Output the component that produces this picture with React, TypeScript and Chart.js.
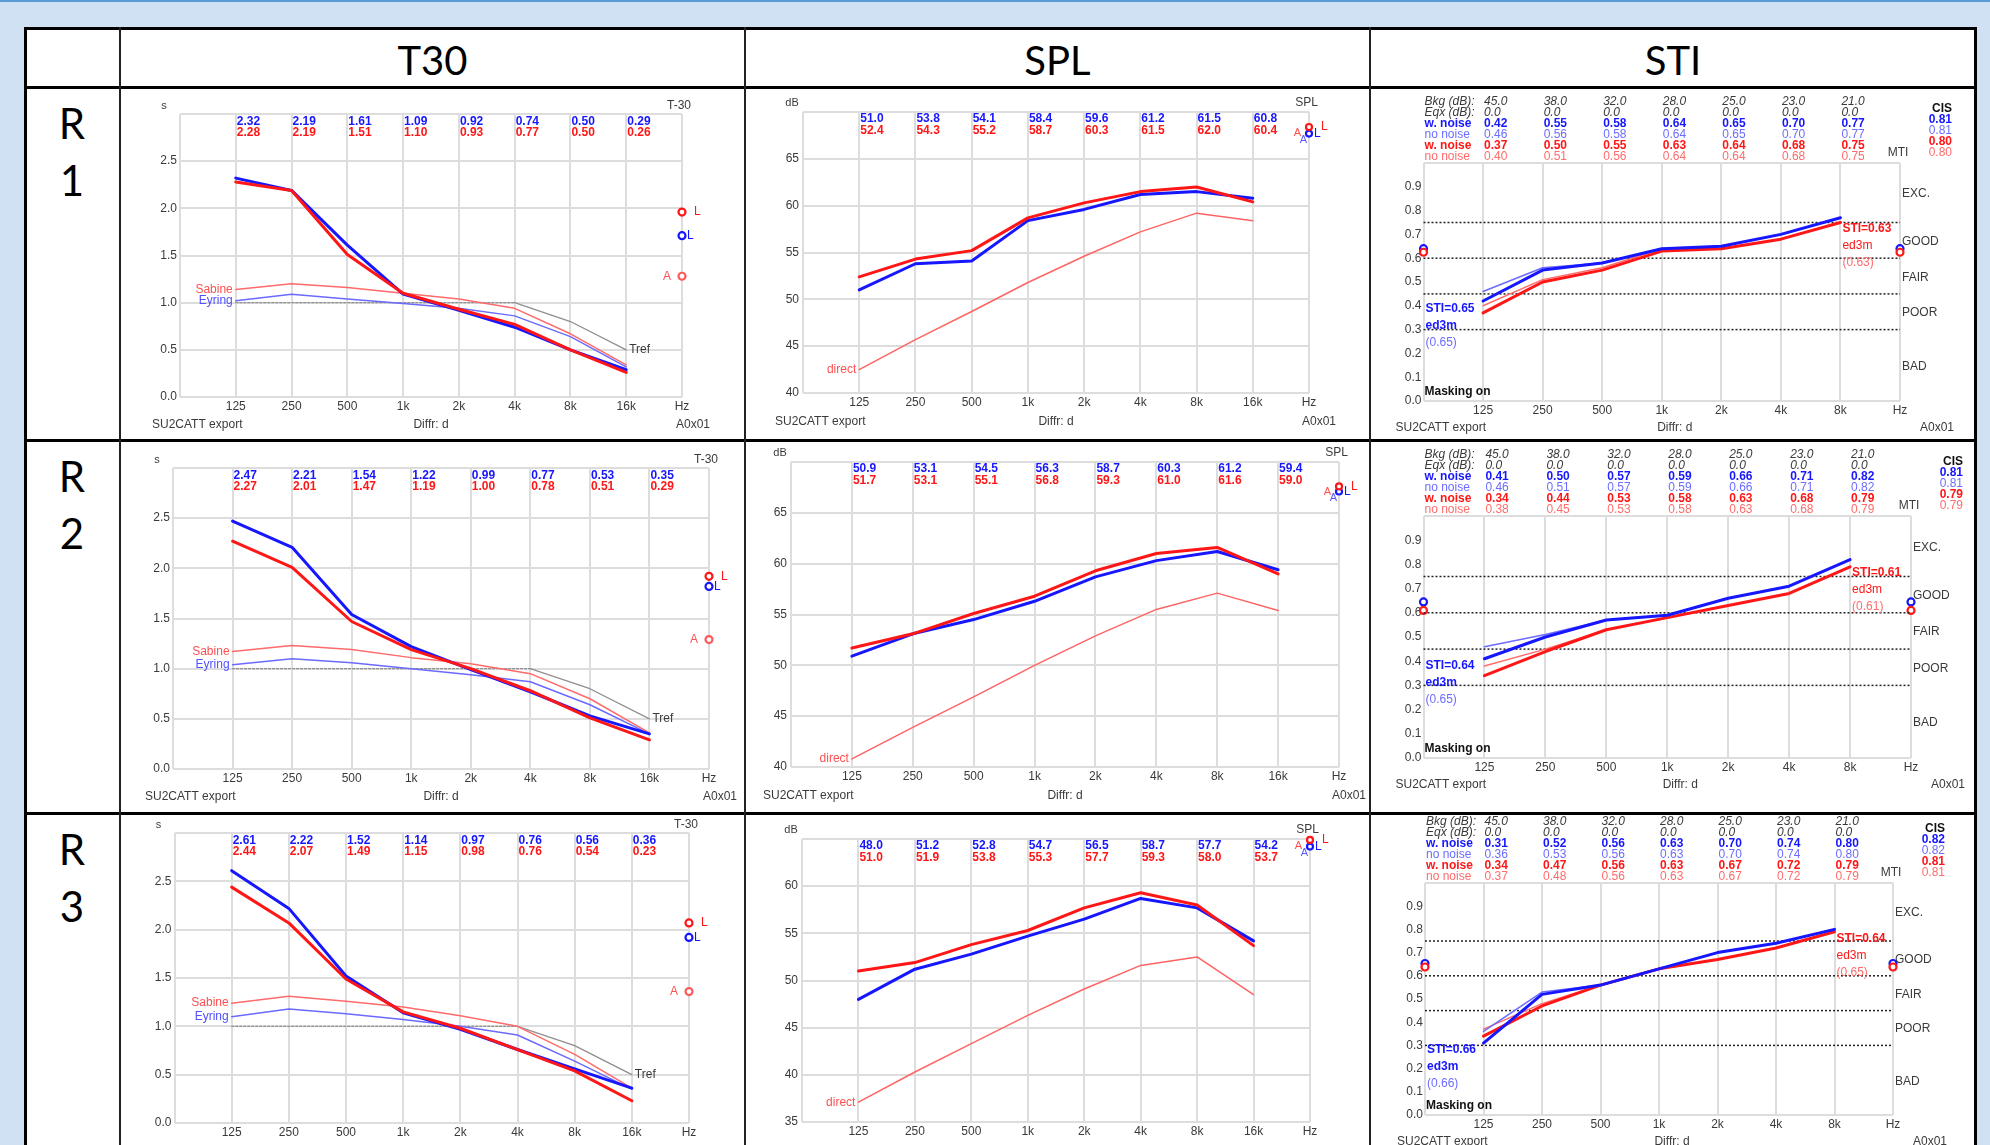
import React, { useEffect, useRef } from "react";
import { Chart, registerables } from "chart.js";
Chart.register(...registerables);

const FONT = '"Liberation Sans", Arial, sans-serif';
Chart.defaults.font.family = FONT;

// ---------------- DATA ----------------
const t30Axis = ["", "125", "250", "500", "1k", "2k", "4k", "8k", "16k", "Hz"];
const t30Bands = ["125", "250", "500", "1k", "2k", "4k", "8k", "16k"];
const stiAxis = ["", "125", "250", "500", "1k", "2k", "4k", "8k", "Hz"];
const stiBands = ["125", "250", "500", "1k", "2k", "4k", "8k"];

// T30 (s)
const r1T30Blue = [2.32, 2.19, 1.61, 1.09, 0.92, 0.74, 0.5, 0.29];
const r1T30Red = [2.28, 2.19, 1.51, 1.1, 0.93, 0.77, 0.5, 0.26];
const r1Sabine = [1.14, 1.2, 1.16, 1.1, 1.04, 0.94, 0.67, 0.34];
const r1Eyring = [1.02, 1.09, 1.04, 0.99, 0.94, 0.86, 0.64, 0.32];
const r1Tref = [1.0, 1.0, 1.0, 1.0, 1.0, 1.0, 0.8, 0.5];
const r1T30Marks = [1.96, 1.71, 1.28];

const r2T30Blue = [2.47, 2.21, 1.54, 1.22, 0.99, 0.77, 0.53, 0.35];
const r2T30Red = [2.27, 2.01, 1.47, 1.19, 1.0, 0.78, 0.51, 0.29];
const r2Sabine = [1.17, 1.23, 1.19, 1.11, 1.05, 0.95, 0.7, 0.36];
const r2Eyring = [1.04, 1.1, 1.06, 1.0, 0.94, 0.87, 0.64, 0.35];
const r2Tref = [1.0, 1.0, 1.0, 1.0, 1.0, 1.0, 0.8, 0.5];
const r2T30Marks = [1.92, 1.82, 1.29];

const r3T30Blue = [2.61, 2.22, 1.52, 1.14, 0.97, 0.76, 0.56, 0.36];
const r3T30Red = [2.44, 2.07, 1.49, 1.15, 0.98, 0.76, 0.54, 0.23];
const r3Sabine = [1.24, 1.31, 1.26, 1.2, 1.11, 1.0, 0.71, 0.36];
const r3Eyring = [1.1, 1.18, 1.13, 1.07, 1.0, 0.91, 0.64, 0.35];
const r3Tref = [1.0, 1.0, 1.0, 1.0, 1.0, 1.0, 0.8, 0.5];
const r3T30Marks = [2.07, 1.92, 1.36];

// SPL (dB)
const r1SplBlue = [51.0, 53.8, 54.1, 58.4, 59.6, 61.2, 61.5, 60.8];
const r1SplRed = [52.4, 54.3, 55.2, 58.7, 60.3, 61.5, 62.0, 60.4];
const r1Direct = [42.5, 45.7, 48.7, 51.8, 54.6, 57.2, 59.2, 58.4];
const r1SplMarks = [68.4, 67.7];
const r1SplRange = [40, 70];

const r2SplBlue = [50.9, 53.1, 54.5, 56.3, 58.7, 60.3, 61.2, 59.4];
const r2SplRed = [51.7, 53.1, 55.1, 56.8, 59.3, 61.0, 61.6, 59.0];
const r2Direct = [40.8, 43.9, 46.9, 50.0, 52.9, 55.5, 57.1, 55.4];
const r2SplMarks = [67.6, 67.1];
const r2SplRange = [40, 70];

const r3SplBlue = [48.0, 51.2, 52.8, 54.7, 56.5, 58.7, 57.7, 54.2];
const r3SplRed = [51.0, 51.9, 53.8, 55.3, 57.7, 59.3, 58.0, 53.7];
const r3Direct = [37.1, 40.3, 43.3, 46.3, 49.1, 51.6, 52.5, 48.5];
const r3SplMarks = [64.9, 64.2];
const r3SplRange = [35, 65];

// STI
const stiBkg = [45.0, 38.0, 32.0, 28.0, 25.0, 23.0, 21.0];
const stiEqx = [0.0, 0.0, 0.0, 0.0, 0.0, 0.0, 0.0];
const stiLimits = [0.3, 0.45, 0.6, 0.75];
const stiRatings = ["EXC.", "GOOD", "FAIR", "POOR", "BAD"];
const stiRatingAt = [0.87, 0.67, 0.52, 0.37, 0.145];

const r1BlueNoise = [0.42, 0.55, 0.58, 0.64, 0.65, 0.7, 0.77];
const r1BlueClean = [0.46, 0.56, 0.58, 0.64, 0.65, 0.7, 0.77];
const r1RedNoise = [0.37, 0.5, 0.55, 0.63, 0.64, 0.68, 0.75];
const r1RedClean = [0.4, 0.51, 0.56, 0.64, 0.64, 0.68, 0.75];
const r1Cis = [0.81, 0.81, 0.8, 0.8];
const r1Sti = [0.65, 0.65, 0.63, 0.63];
const r1StiMarks = [0.64, 0.625];
const r1StiLabelAt = [0.386, 0.725];

const r2BlueNoise = [0.41, 0.5, 0.57, 0.59, 0.66, 0.71, 0.82];
const r2BlueClean = [0.46, 0.51, 0.57, 0.59, 0.66, 0.71, 0.82];
const r2RedNoise = [0.34, 0.44, 0.53, 0.58, 0.63, 0.68, 0.79];
const r2RedClean = [0.38, 0.45, 0.53, 0.58, 0.63, 0.68, 0.79];
const r2Cis = [0.81, 0.81, 0.79, 0.79];
const r2Sti = [0.64, 0.65, 0.61, 0.61];
const r2StiMarks = [0.645, 0.61];
const r2StiLabelAt = [0.38, 0.764];

const r3BlueNoise = [0.31, 0.52, 0.56, 0.63, 0.7, 0.74, 0.8];
const r3BlueClean = [0.36, 0.53, 0.56, 0.63, 0.7, 0.74, 0.8];
const r3RedNoise = [0.34, 0.47, 0.56, 0.63, 0.67, 0.72, 0.79];
const r3RedClean = [0.37, 0.48, 0.56, 0.63, 0.67, 0.72, 0.79];
const r3Cis = [0.82, 0.82, 0.81, 0.81];
const r3Sti = [0.66, 0.66, 0.64, 0.65];
const r3StiMarks = [0.653, 0.638];
const r3StiLabelAt = [0.28, 0.76];

const columnTitles = ["T30", "SPL", "STI"];
const rowTitles = [["R", "1"], ["R", "2"], ["R", "3"]];

// ---------------- STYLE / LAYOUT ----------------
const BLUE = "#1616ff";
const RED = "#ff1616";
const LBLUE = "#6c6cff";
const LRED = "#ff6c6c";
const GRID = "#dddddd";
const TXT = "#3a3a3a";

type Rect = { x: number; y: number; w: number; h: number };
type Plot = { L: number; T: number; R: number; B: number };

const rowBoxes = [
  { y: 90, h: 350 },
  { y: 443, h: 370 },
  { y: 816, h: 329 },
];
const colBoxes = [
  { x: 122, w: 621 },
  { x: 747, w: 621 },
  { x: 1372, w: 602 },
];
const t30Plots: Plot[] = [
  { L: 180, T: 114, R: 682, B: 397 },
  { L: 173, T: 468, R: 709, B: 769 },
  { L: 174.5, T: 833, R: 689, B: 1123 },
];
const splPlots: Plot[] = [
  { L: 803, T: 112, R: 1309, B: 393 },
  { L: 791, T: 462, R: 1339, B: 767 },
  { L: 802, T: 839, R: 1310, B: 1122 },
];
const stiPlots: Plot[] = [
  { L: 1423.5, T: 163, R: 1900, B: 401 },
  { L: 1423.5, T: 516, R: 1911, B: 758 },
  { L: 1425, T: 883, R: 1893, B: 1115 },
];

const YW = 30;
const XH = 20;

function pad(c: Rect, p: Plot) {
  return {
    left: p.L - c.x - YW,
    top: p.T - c.y,
    right: c.x + c.w - p.R,
    bottom: c.y + c.h - p.B - XH,
  };
}
const fixY = (s: any) => {
  s.width = YW;
  s.paddingTop = 0;
  s.paddingBottom = 0;
  s.paddingLeft = 0;
  s.paddingRight = 0;
};
const fixX = (s: any) => {
  s.height = XH;
  s.paddingTop = 0;
  s.paddingBottom = 0;
  s.paddingLeft = 0;
  s.paddingRight = 0;
};

const F = (size = 12, weight = "normal", style = "normal") => `${style} ${weight} ${size}px ${FONT}`;
function t(ctx: CanvasRenderingContext2D, s: string, x: number, y: number, color: string, font: string, align: CanvasTextAlign = "left") {
  ctx.fillStyle = color;
  ctx.font = font;
  ctx.textAlign = align;
  ctx.textBaseline = "middle";
  ctx.fillText(s, x, y);
}

const pts = (bands: string[], vals: number[]) => bands.map((b, i) => ({ x: b, y: vals[i] }));

function baseOptions(c: Rect, p: Plot) {
  return {
    animation: false,
    responsive: false,
    maintainAspectRatio: false,
    events: [],
    layout: { autoPadding: false, padding: pad(c, p) },
    plugins: { legend: { display: false }, tooltip: { enabled: false } },
    elements: {
      point: { radius: 0, hoverRadius: 0 },
      line: { tension: 0, borderJoinStyle: "round", borderCapStyle: "round" },
    },
  };
}
const xScale = {
  type: "category",
  offset: false,
  grid: { color: GRID, lineWidth: 2, drawTicks: false },
  border: { display: false },
  ticks: { autoSkip: false, maxRotation: 0, padding: 2, color: TXT, font: { size: 12, family: FONT } },
  afterFit: fixX,
};

function marker(xLabel: string, y: number, color: string, r = 3.5) {
  return {
    data: [{ x: xLabel, y }],
    showLine: false,
    borderColor: color,
    pointRadius: r,
    pointHoverRadius: r,
    pointBorderWidth: 2.2,
    pointBorderColor: color,
    pointBackgroundColor: "#ffffff",
    clip: false,
  };
}

function bottomTexts(ctx: CanvasRenderingContext2D, L: number, R: number, B: number, dy: number, midShift: number, rightShift: number) {
  t(ctx, "SU2CATT export", L - 28, B + dy, TXT, F(12));
  t(ctx, "Diffr: d", (L + R) / 2 + midShift, B + dy, TXT, F(12), "center");
  t(ctx, "A0x01", R + rightShift, B + dy, TXT, F(12), "right");
}

// ---------------- T30 ----------------
function t30Config(row: any, c: Rect, p: Plot) {
  const flatDash = (ctx: any) => (ctx.p0.parsed.y === ctx.p1.parsed.y ? [2, 2] : undefined);
  return {
    type: "line",
    data: {
      labels: t30Axis,
      datasets: [
        { data: pts(t30Bands, row.red), borderColor: RED, borderWidth: 3 },
        { data: pts(t30Bands, row.blue), borderColor: BLUE, borderWidth: 3 },
        { data: pts(t30Bands, row.sabine), borderColor: "#ff6a6a", borderWidth: 1.5 },
        { data: pts(t30Bands, row.eyring), borderColor: "#6a6aff", borderWidth: 1.5 },
        { data: pts(t30Bands, row.tref), borderColor: "#8f8f8f", borderWidth: 1.3, segment: { borderDash: flatDash } },
        marker("Hz", row.marks[0], RED),
        marker("Hz", row.marks[1], BLUE),
        marker("Hz", row.marks[2], "#ff5a5a"),
      ],
    },
    options: {
      ...baseOptions(c, p),
      scales: {
        x: xScale,
        y: {
          type: "linear",
          min: 0,
          max: 3,
          grid: { color: GRID, lineWidth: 2, drawTicks: false },
          border: { display: false },
          ticks: {
            stepSize: 0.5,
            padding: 3,
            color: TXT,
            font: { size: 12, family: FONT },
            callback: (v: any) => (Number(v) > 2.99 ? "" : Number(v).toFixed(1)),
          },
          afterFit: fixY,
        },
      },
    },
    plugins: [
      {
        id: "annotT30",
        afterDraw(chart: any) {
          const ctx = chart.ctx;
          const { left: L, right: R, top: T, bottom: B } = chart.chartArea;
          const xs = chart.scales.x;
          const ys = chart.scales.y;
          ctx.save();
          t(ctx, "s", L - 16, T - 8, TXT, F(11), "center");
          t(ctx, "T-30", R + 9, T - 8, TXT, F(12), "right");
          t30Bands.forEach((b, i) => {
            const x = xs.getPixelForValue(i + 1);
            t(ctx, row.blue[i].toFixed(2), x + 1, T + 8, BLUE, F(12, "bold"));
            t(ctx, row.red[i].toFixed(2), x + 1, T + 19, RED, F(12, "bold"));
          });
          const x1 = xs.getPixelForValue(1);
          t(ctx, "Sabine", x1 - 3, ys.getPixelForValue(row.sabine[0]), "#ff5050", F(12), "right");
          t(ctx, "Eyring", x1 - 3, ys.getPixelForValue(row.eyring[0]), "#5050ff", F(12), "right");
          t(ctx, "Tref", xs.getPixelForValue(8) + 3, ys.getPixelForValue(row.tref[7]), TXT, F(12));
          t(ctx, "L", R + 12, ys.getPixelForValue(row.marks[0]), RED, F(12));
          t(ctx, "L", R + 5, ys.getPixelForValue(row.marks[1]), BLUE, F(12));
          t(ctx, "A", R - 11, ys.getPixelForValue(row.marks[2]), "#ff5050", F(12), "right");
          bottomTexts(ctx, L, R, B, 28, 0, 28);
          ctx.restore();
        },
      },
    ],
  };
}

// ---------------- SPL ----------------
function splConfig(row: any, c: Rect, p: Plot) {
  const [ymin, ymax] = row.range;
  return {
    type: "line",
    data: {
      labels: t30Axis,
      datasets: [
        { data: pts(t30Bands, row.red), borderColor: RED, borderWidth: 3 },
        { data: pts(t30Bands, row.blue), borderColor: BLUE, borderWidth: 3 },
        { data: pts(t30Bands, row.direct), borderColor: "#ff6464", borderWidth: 1.5 },
        marker("Hz", row.marks[0], RED, 3),
        marker("Hz", row.marks[1], BLUE, 3),
      ],
    },
    options: {
      ...baseOptions(c, p),
      scales: {
        x: xScale,
        y: {
          type: "linear",
          min: ymin,
          max: ymax,
          grid: { color: GRID, lineWidth: 2, drawTicks: false },
          border: { display: false },
          ticks: {
            stepSize: 5,
            padding: 4,
            color: TXT,
            font: { size: 12, family: FONT },
            callback: (v: any) => (Number(v) >= ymax - 0.01 ? "" : String(v)),
          },
          afterFit: fixY,
        },
      },
    },
    plugins: [
      {
        id: "annotSPL",
        afterDraw(chart: any) {
          const ctx = chart.ctx;
          const { left: L, right: R, top: T, bottom: B } = chart.chartArea;
          const xs = chart.scales.x;
          const ys = chart.scales.y;
          ctx.save();
          t(ctx, "dB", L - 11, T - 9, TXT, F(11), "center");
          t(ctx, "SPL", R + 9, T - 9, TXT, F(12), "right");
          t30Bands.forEach((b, i) => {
            const x = xs.getPixelForValue(i + 1);
            t(ctx, row.blue[i].toFixed(1), x + 1, T + 7, BLUE, F(12, "bold"));
            t(ctx, row.red[i].toFixed(1), x + 1, T + 19, RED, F(12, "bold"));
          });
          const x1 = xs.getPixelForValue(1);
          t(ctx, "direct", x1 - 3, ys.getPixelForValue(row.direct[0]), "#ff5050", F(12), "right");
          const yr = ys.getPixelForValue(row.marks[0]);
          const yb = ys.getPixelForValue(row.marks[1]);
          t(ctx, "A", R - 8, yr + 6, "#ff5050", F(11), "right");
          t(ctx, "L", R + 12, yr, RED, F(12));
          t(ctx, "A", R - 2, yb + 6, "#5a5aff", F(11), "right");
          t(ctx, "L", R + 5, yb, BLUE, F(12));
          bottomTexts(ctx, L, R, B, 29, 0, 27);
          ctx.restore();
        },
      },
    ],
  };
}

// ---------------- STI ----------------
function stiConfig(row: any, c: Rect, p: Plot) {
  const limitSets = stiLimits.map((v) => ({
    data: [
      { x: "", y: v },
      { x: "Hz", y: v },
    ],
    borderColor: "#222222",
    borderWidth: 1.5,
    borderDash: [2, 2],
    borderCapStyle: "butt",
  }));
  return {
    type: "line",
    data: {
      labels: stiAxis,
      datasets: [
        { data: pts(stiBands, row.bw), borderColor: BLUE, borderWidth: 3 },
        { data: pts(stiBands, row.rw), borderColor: RED, borderWidth: 3 },
        { data: pts(stiBands, row.bn), borderColor: LBLUE, borderWidth: 1.5 },
        { data: pts(stiBands, row.rn), borderColor: LRED, borderWidth: 1.5 },
        ...limitSets,
        marker("", row.marks[1], RED, 3.5),
        marker("", row.marks[0], BLUE, 3.5),
        marker("Hz", row.marks[1], RED, 3.5),
        marker("Hz", row.marks[0], BLUE, 3.5),
      ],
    },
    options: {
      ...baseOptions(c, p),
      scales: {
        x: xScale,
        y: {
          type: "linear",
          min: 0,
          max: 1,
          grid: {
            color: (g: any) =>
              Math.abs(g.tick.value) < 1e-6 || Math.abs(g.tick.value - 1) < 1e-6 ? GRID : "rgba(0,0,0,0)",
            lineWidth: 2,
            drawTicks: false,
          },
          border: { display: false },
          ticks: {
            stepSize: 0.1,
            padding: 2,
            color: TXT,
            font: { size: 12, family: FONT },
            callback: (v: any) => (Number(v) > 0.99 ? "" : Number(v).toFixed(1)),
          },
          afterFit: fixY,
        },
      },
    },
    plugins: [
      {
        id: "annotSTI",
        afterDraw(chart: any) {
          const ctx = chart.ctx;
          const { left: L, right: R, top: T, bottom: B } = chart.chartArea;
          const xs = chart.scales.x;
          const ys = chart.scales.y;
          ctx.save();
          const it = F(12, "normal", "italic");
          const bd = F(12, "bold");
          const nm = F(12);
          const rows: [string, string[], string, string][] = [
            ["Bkg (dB):", stiBkg.map((v) => v.toFixed(1)), TXT, it],
            ["Eqx (dB):", stiEqx.map((v) => v.toFixed(1)), TXT, it],
            ["w. noise", row.bw.map((v: number) => v.toFixed(2)), BLUE, bd],
            ["no noise", row.bn.map((v: number) => v.toFixed(2)), LBLUE, nm],
            ["w. noise", row.rw.map((v: number) => v.toFixed(2)), RED, bd],
            ["no noise", row.rn.map((v: number) => v.toFixed(2)), LRED, nm],
          ];
          rows.forEach(([lab, vals, col, font], k) => {
            const y = T - 61 + k * 11;
            t(ctx, lab, L + 1, y, col, font);
            vals.forEach((s, i) => t(ctx, s, xs.getPixelForValue(i + 1) + 1, y, col, font));
          });
          t(ctx, "CIS", R + 52, T - 54, "#111111", bd, "right");
          const cc = [BLUE, LBLUE, RED, LRED];
          const cf = [bd, nm, bd, nm];
          row.cis.forEach((v: number, k: number) => t(ctx, v.toFixed(2), R + 52, T - 43 + k * 11, cc[k], cf[k], "right"));
          t(ctx, "MTI", R - 2, T - 10, TXT, nm, "center");
          stiRatings.forEach((s, k) => t(ctx, s, R + 2, ys.getPixelForValue(stiRatingAt[k]), TXT, nm));
          const yb = ys.getPixelForValue(row.labelAt[0]);
          t(ctx, "STI=" + row.sti[0].toFixed(2), L + 2, yb, BLUE, bd);
          t(ctx, "ed3m", L + 2, yb + 17, BLUE, bd);
          t(ctx, "(" + row.sti[1].toFixed(2) + ")", L + 2, yb + 34, LBLUE, nm);
          const x8 = xs.getPixelForValue(7);
          const yr = ys.getPixelForValue(row.labelAt[1]);
          t(ctx, "STI=" + row.sti[2].toFixed(2), x8 + 2, yr, RED, bd);
          t(ctx, "ed3m", x8 + 2, yr + 17, RED, nm);
          t(ctx, "(" + row.sti[3].toFixed(2) + ")", x8 + 2, yr + 34, LRED, nm);
          t(ctx, "Masking on", L + 1, B - 9, "#111111", bd);
          bottomTexts(ctx, L, R, B, 27, 13, 54);
          ctx.restore();
        },
      },
    ],
  };
}

// ---------------- ROW TABLES ----------------
const t30Rows = [
  { blue: r1T30Blue, red: r1T30Red, sabine: r1Sabine, eyring: r1Eyring, tref: r1Tref, marks: r1T30Marks },
  { blue: r2T30Blue, red: r2T30Red, sabine: r2Sabine, eyring: r2Eyring, tref: r2Tref, marks: r2T30Marks },
  { blue: r3T30Blue, red: r3T30Red, sabine: r3Sabine, eyring: r3Eyring, tref: r3Tref, marks: r3T30Marks },
];
const splRows = [
  { blue: r1SplBlue, red: r1SplRed, direct: r1Direct, marks: r1SplMarks, range: r1SplRange },
  { blue: r2SplBlue, red: r2SplRed, direct: r2Direct, marks: r2SplMarks, range: r2SplRange },
  { blue: r3SplBlue, red: r3SplRed, direct: r3Direct, marks: r3SplMarks, range: r3SplRange },
];
const stiRows = [
  { bw: r1BlueNoise, bn: r1BlueClean, rw: r1RedNoise, rn: r1RedClean, cis: r1Cis, sti: r1Sti, marks: r1StiMarks, labelAt: r1StiLabelAt },
  { bw: r2BlueNoise, bn: r2BlueClean, rw: r2RedNoise, rn: r2RedClean, cis: r2Cis, sti: r2Sti, marks: r2StiMarks, labelAt: r2StiLabelAt },
  { bw: r3BlueNoise, bn: r3BlueClean, rw: r3RedNoise, rn: r3RedClean, cis: r3Cis, sti: r3Sti, marks: r3StiMarks, labelAt: r3StiLabelAt },
];

function Panel({ box, make }: { box: Rect; make: () => any }) {
  const ref = useRef<HTMLCanvasElement>(null);
  useEffect(() => {
    const chart = new Chart(ref.current as HTMLCanvasElement, make());
    return () => chart.destroy();
  }, []);
  return (
    <canvas
      ref={ref}
      width={box.w}
      height={box.h}
      style={{ position: "absolute", left: box.x, top: box.y, width: box.w, height: box.h }}
    />
  );
}

function Line({ x, y, w, h, c = "#000" }: { x: number; y: number; w: number; h: number; c?: string }) {
  return <div style={{ position: "absolute", left: x, top: y, width: w, height: h, background: c }} />;
}

export default function App() {
  const panels: React.ReactNode[] = [];
  rowBoxes.forEach((rb, r) => {
    const boxes = colBoxes.map((cb) => ({ x: cb.x, y: rb.y, w: cb.w, h: rb.h }));
    panels.push(<Panel key={"t" + r} box={boxes[0]} make={() => t30Config(t30Rows[r], boxes[0], t30Plots[r])} />);
    panels.push(<Panel key={"s" + r} box={boxes[1]} make={() => splConfig(splRows[r], boxes[1], splPlots[r])} />);
    panels.push(<Panel key={"i" + r} box={boxes[2]} make={() => stiConfig(stiRows[r], boxes[2], stiPlots[r])} />);
  });
  const headerCenters = [432.5, 1057.5, 1673];
  const rowTops = [88, 441, 814];
  return (
    <div
      style={{
        position: "fixed",
        left: 0,
        top: 0,
        width: 1990,
        height: 1145,
        overflow: "hidden",
        background: "#cfe1f2",
      }}
    >
      <Line x={0} y={0} w={1990} h={2} c="#5b9bd5" />
      <div style={{ position: "absolute", left: 25, top: 28, width: 1951, height: 1200, background: "#ffffff" }} />
      {columnTitles.map((s, i) => (
        <div
          key={s}
          style={{
            position: "absolute",
            left: headerCenters[i] - 150,
            width: 300,
            top: 30,
            height: 60,
            lineHeight: "60px",
            textAlign: "center",
            fontFamily: "Lato, 'Open Sans', sans-serif",
            fontSize: 40,
            color: "#000",
          }}
        >
          {s}
        </div>
      ))}
      {rowTitles.map((pair, r) => (
        <React.Fragment key={"r" + r}>
          {pair.map((s, k) => (
            <div
              key={k}
              style={{
                position: "absolute",
                left: 22,
                width: 100,
                top: rowTops[r] + (k === 0 ? 35 : 92) - 25,
                height: 50,
                lineHeight: "50px",
                textAlign: "center",
                fontFamily: "Lato, 'Open Sans', sans-serif",
                fontSize: 42,
                color: "#000",
              }}
            >
              {s}
            </div>
          ))}
        </React.Fragment>
      ))}
      {panels}
      {/* table borders */}
      <Line x={24} y={27} w={1953} h={3} />
      <Line x={24} y={27} w={3} h={1200} />
      <Line x={1974} y={27} w={3} h={1200} />
      <Line x={24} y={86} w={1953} h={3} />
      <Line x={24} y={439} w={1953} h={3} />
      <Line x={24} y={812} w={1953} h={3} />
      <Line x={119} y={27} w={2} h={1200} c="#222" />
      <Line x={744} y={27} w={2} h={1200} c="#222" />
      <Line x={1369} y={27} w={2} h={1200} c="#222" />
    </div>
  );
}
